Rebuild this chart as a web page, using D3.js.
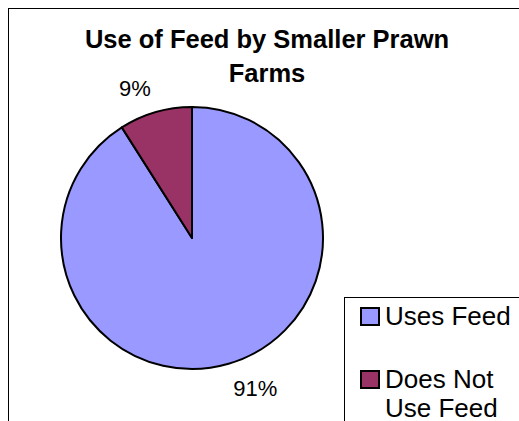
<!DOCTYPE html>
<html>
<head>
<meta charset="utf-8">
<script src="https://cdn.jsdelivr.net/npm/d3@7"></script>
<style>
  body { margin: 0; background: #fff; }
  svg { display: block; font-family: "Liberation Sans", Arial, sans-serif; }
</style>
</head>
<body>
<svg></svg>
<script>
// Chart size
const width = 519, height = 421;

// Data
const categories = ["Uses Feed", "Does Not Use Feed"];
const shares = [91, 9];
const colors = ["#9999FF", "#993366"];
const legendLines = [["Uses Feed"], ["Does Not", "Use Feed"]];

const svg = d3.select("svg")
  .attr("width", width)
  .attr("height", height);

// Outer chart frame (runs off the right and bottom edge)
svg.append("rect")
  .attr("x", 8.5).attr("y", 8.5)
  .attr("width", width + 20).attr("height", height + 20)
  .attr("fill", "#fff")
  .attr("stroke", "#000")
  .attr("stroke-width", 1);

// Title
svg.append("text")
  .attr("x", 267)
  .attr("y", 48)
  .attr("text-anchor", "middle")
  .attr("font-weight", "bold")
  .attr("font-size", 25.5)
  .selectAll("tspan")
  .data(["Use of Feed by Smaller Prawn", "Farms"])
  .join("tspan")
  .attr("x", 267)
  .attr("dy", (d, i) => i === 0 ? 0 : 34)
  .text(d => d);

// Pie
const cx = 192, cy = 238, radius = 131;

const pie = d3.pie().sort(null).value(d => d.value);
const arcs = pie(categories.map((c, i) => ({ name: c, value: shares[i] })));

const arc = d3.arc().innerRadius(0).outerRadius(radius);
// labels hang off a point just outside the rim, Excel style
const labelArc = d3.arc().innerRadius(148).outerRadius(148);

const g = svg.append("g").attr("transform", `translate(${cx},${cy})`);

g.selectAll("path")
  .data(arcs)
  .join("path")
  .attr("d", arc)
  .attr("fill", (d, i) => colors[i])
  .attr("stroke", "#000")
  .attr("stroke-width", 2)
  .attr("stroke-linejoin", "round");

g.selectAll("text")
  .data(arcs)
  .join("text")
  .attr("x", d => labelArc.centroid(d)[0])
  .attr("y", d => labelArc.centroid(d)[1])
  .attr("text-anchor", d => labelArc.centroid(d)[0] < 0 ? "end" : "start")
  .attr("dy", d => labelArc.centroid(d)[1] < 0 ? 0 : 15.5)
  .attr("font-size", 22)
  .text(d => d.data.value + "%");

// Legend
const legend = svg.append("g");

legend.append("rect")
  .attr("x", 344.5).attr("y", 297.5)
  .attr("width", 200).attr("height", 150)
  .attr("fill", "#fff")
  .attr("stroke", "#000")
  .attr("stroke-width", 1);

const itemY = [325, 388];

const item = legend.selectAll("g.item")
  .data(categories)
  .join("g")
  .attr("class", "item");

item.append("rect")
  .attr("x", 361)
  .attr("y", (d, i) => itemY[i] - 17)
  .attr("width", 18)
  .attr("height", 17)
  .attr("fill", (d, i) => colors[i])
  .attr("stroke", "#000")
  .attr("stroke-width", 2);

item.append("text")
  .attr("font-size", 26)
  .selectAll("tspan")
  .data((d, i) => legendLines[i].map((t, j) => ({ t, j, y: itemY[i] })))
  .join("tspan")
  .attr("x", 385)
  .attr("y", d => d.y + d.j * 29)
  .text(d => d.t);
</script>
</body>
</html>
